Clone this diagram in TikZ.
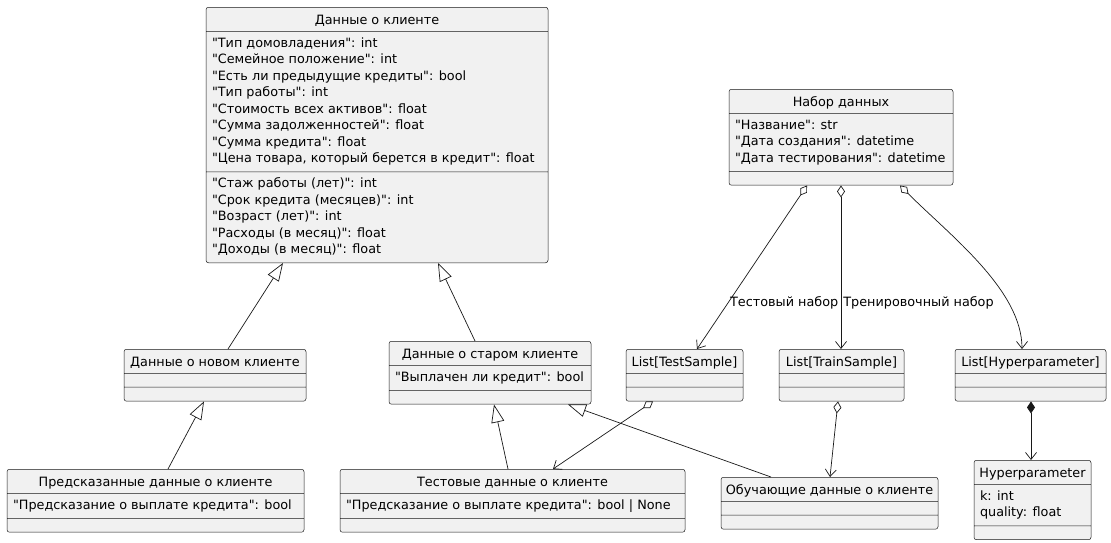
\documentclass[tikz,border=0pt]{standalone}
\usepackage{fontspec}
\setmainfont[Ligatures=TeXOff]{DejaVu Sans}
\usepackage{tikz}
\usetikzlibrary{arrows.meta}
\usetikzlibrary{shapes.multipart}

\definecolor{boxfill}{HTML}{F1F1F1}
\definecolor{linegray}{HTML}{181818}

% class compartments
\newcommand{\ttl}[1]{\rule[-3pt]{0pt}{15.5pt}#1}
\newcommand{\attrs}[1]{\hspace*{3pt}\begin{tabular}{@{}l@{}}#1\end{tabular}}

\begin{document}
\begin{tikzpicture}[
x                       = 1pt,
y                       = -1pt,
every node/.style       = {font=\fontsize{12.8}{16.5}\selectfont},
classbox/.style = {rectangle split, rectangle split parts=3,
                   rectangle split part align={center,left,left},
                   rectangle split empty part height=1pt,
                   rectangle split empty part depth=0pt,
                   draw=linegray, line width=0.5pt, fill=boxfill,
                   rounded corners=2.5pt, inner xsep=3pt, inner ysep=4pt,
                   anchor=north},
inherit/.style = {draw=linegray, line width=0.7pt,
                  -{Triangle[open, length=18pt, width=13pt]}},
aggr/.style    = {draw=linegray, line width=0.7pt,
                  {Diamond[open, length=12pt, width=8pt]}-{Straight Barb[length=7pt, width=11pt]}},
comp/.style    = {draw=linegray, line width=0.7pt,
                  {Diamond[length=12pt, width=8pt]}-{Straight Barb[length=7pt, width=11pt]}},
edgelabel/.style = {right, inner sep=2pt}
]
\useasboundingbox (0,0) rectangle (1111,542);

% classes
\node[classbox, minimum width=342pt] (client) at (377,7) {\ttl{Данные о клиенте}
\nodepart{two}\attrs{"Тип домовладения": int\\
"Семейное положение": int\\
"Есть ли предыдущие кредиты": bool\\
"Тип работы": int\\
"Стоимость всех активов": float\\
"Сумма задолженностей": float\\
"Сумма кредита": float\\
"Цена товара, который берется в кредит": float}
\nodepart{three}\attrs{"Стаж работы (лет)": int\\
"Срок кредита (месяцев)": int\\
"Возраст (лет)": int\\
"Расходы (в месяц)": float\\
"Доходы (в месяц)": float}};

\node[classbox, minimum width=224pt] (data) at (841,89) {\ttl{Набор данных}
\nodepart{two}\attrs{"Название": str\\
"Дата создания": datetime\\
"Дата тестирования": datetime}};

\node[classbox, minimum width=117pt] (testlist) at (684.5,349) {\ttl{List[TestSample]}};
\node[classbox, minimum width=125pt] (trainlist) at (841.5,349) {\ttl{List[TrainSample]}};
\node[classbox, minimum width=151pt] (hyperlist) at (1030.5,349) {\ttl{List[Hyperparameter]}};

\node[classbox, minimum width=117pt] (hyper) at (1032.5,460) {\ttl{Hyperparameter}
\nodepart{two}\attrs{k: int\\
quality: float}};

\node[classbox, minimum width=217pt] (traindata) at (829.5,477) {\ttl{Обучающие данные о клиенте}};
\node[classbox, minimum width=182pt] (newclient) at (215,349) {\ttl{Данные о новом клиенте}};

\node[classbox, minimum width=202pt] (oldclient) at (490,341) {\ttl{Данные о старом клиенте}
\nodepart{two}\attrs{"Выплачен ли кредит": bool}};

\node[classbox, minimum width=297pt] (predicted) at (155.5,469) {\ttl{Предсказанные данные о клиенте}
\nodepart{two}\attrs{"Предсказание о выплате кредита": bool}};

\node[classbox, minimum width=345pt] (testdata) at (512.5,469) {\ttl{Тестовые данные о клиенте}
\nodepart{two}\attrs{"Предсказание о выплате кредита": bool | None}};

% inheritance
\draw[inherit] ([xshift=13pt]newclient.north) -- ([xshift=-94pt]client.south);
\draw[inherit] ([xshift=-15pt]oldclient.north) -- ([xshift=61pt]client.south);
\draw[inherit] ([xshift=12.5pt]predicted.north) -- ([xshift=-11pt]newclient.south);
\draw[inherit] ([xshift=-4.5pt]testdata.north) -- ([xshift=4pt]oldclient.south);
\draw[inherit] ([xshift=-58.5pt]traindata.north) -- ([xshift=78pt]oldclient.south);

% aggregation
\draw[aggr] ([xshift=-34pt]data.south) -- node[edgelabel, pos=0.72] (lbltest) {Тестовый набор} ([xshift=12.5pt]testlist.north);
\draw[aggr] (data.south) -- node[edgelabel, pos=0.72] (lbltrain) {Тренировочный набор} ([xshift=-0.5pt]trainlist.north);
\draw[aggr] ([xshift=59pt]data.south) .. controls +(50,50) and +(0,-59) .. ([xshift=-8.5pt]hyperlist.north);
\draw[aggr] ([xshift=-31.5pt]testlist.south) -- ([xshift=40.5pt]testdata.north);
\draw[aggr] ([xshift=-3.5pt]trainlist.south) -- ([xshift=0.5pt]traindata.north);
\draw[comp] ([xshift=0.5pt]hyperlist.south) -- ([xshift=-1.5pt]hyper.north);
\end{tikzpicture}
\end{document}
